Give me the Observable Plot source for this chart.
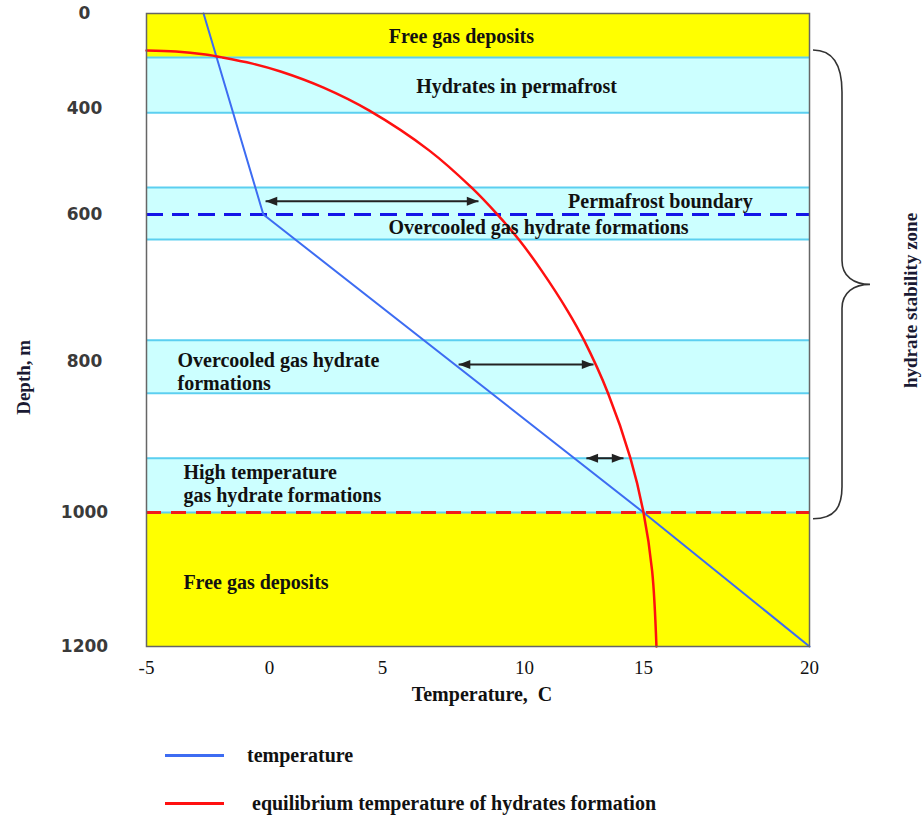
<!DOCTYPE html>
<html><head><meta charset="utf-8">
<script src="https://cdn.jsdelivr.net/npm/d3@7"></script>
<script src="https://cdn.jsdelivr.net/npm/@observablehq/plot@0.6"></script>
<style>
body{margin:0;background:#fff;}
#wrap{position:relative;width:922px;height:821px;overflow:hidden;}
.leg{position:absolute;left:165px;height:30px;display:flex;align-items:center;font:bold 20px "Liberation Serif",serif;color:#111;}
.leg .sw{display:inline-block;width:59px;height:3px;}
</style></head><body><div id="wrap"></div>
<script>
// axis ticks (the original drawing uses uneven tick spacing)
const xTicks = [-5, 0, 5, 10, 15, 20];
const yTicks = [0, 400, 600, 800, 1000, 1200];

// temperature profile (°C vs depth m)
const temperature = [
  {t: -2.68, d: 0}, {t: -0.25, d: 600}, {t: 15, d: 1000}, {t: 20, d: 1200}
];
// equilibrium temperature of hydrate formation
const equilibrium = [
  {t: -5, d: 156}, {t: -3.8, d: 160}, {t: -2.6, d: 173}, {t: -1.91, d: 185},
  {t: -0.69, d: 211}, {t: 0.49, d: 244}, {t: 2.39, d: 312}, {t: 4.42, d: 404},
  {t: 6.64, d: 479}, {t: 8.13, d: 549}, {t: 9.01, d: 598}, {t: 9.82, d: 635},
  {t: 10.71, d: 676}, {t: 11.81, d: 731}, {t: 12.5, d: 771}, {t: 13.51, d: 842},
  {t: 14.45, d: 928}, {t: 15, d: 1000}, {t: 15.26, d: 1087}, {t: 15.39, d: 1200}
];
// zones (depth ranges)
const freeGasZones = [{d1: 0, d2: 185}, {d1: 1000, d2: 1200}];
const hydrateZones = [{d1: 185, d2: 408}, {d1: 549, d2: 634}, {d1: 771, d2: 842}, {d1: 928, d2: 1000}];
const permafrostBoundary = [600];
const stabilityBottom = [1000];
const braceSpan = [156, 1010];
// double arrows (temperature differences)
const arrows = [
  {t1: -0.16, t2: 8.38, d: 575},
  {t1: 7.68, t2: 12.9, d: 804},
  {t1: 12.6, t2: 14.16, d: 928}
];
// zone labels
const zoneLabels = [
  {text: "Free gas deposits", t: 7.78, d: 97, anchor: "middle"},
  {text: "Hydrates in permafrost", t: 9.72, d: 307, anchor: "middle"},
  {text: "Permafrost boundary", t: 15.51, d: 575, anchor: "middle"},
  {text: "Overcooled gas hydrate formations", t: 10.59, d: 618, anchor: "middle"},
  {text: "Overcooled gas hydrate", t: -3.74, d: 799, anchor: "start"},
  {text: "formations", t: -3.74, d: 829, anchor: "start"},
  {text: "High temperature", t: -3.5, d: 947, anchor: "start"},
  {text: "gas hydrate formations", t: -3.5, d: 977, anchor: "start"},
  {text: "Free gas deposits", t: -3.5, d: 1104, anchor: "start"}
];
const axisTitles = [
  {text: "Depth, m", d: 821, side: "left"},
  {text: "hydrate stability zone", d: 717, side: "right"}
];
const legendItems = [
  {label: "temperature", color: "#3d6cf2"},
  {label: " equilibrium temperature of hydrates formation", color: "#ff1010"}
];

const serif = "Liberation Serif, Times New Roman, serif";
const bandEdges = hydrateZones.flatMap(z => [z.d1, z.d2]);

const headRight = {draw(ctx, size) { const k = Math.sqrt(size / Math.PI); ctx.moveTo(0, 0); ctx.lineTo(-2.6 * k, -k); ctx.lineTo(-2.6 * k, k); ctx.closePath(); }};
const headLeft = {draw(ctx, size) { const k = Math.sqrt(size / Math.PI); ctx.moveTo(0, 0); ctx.lineTo(2.6 * k, -k); ctx.lineTo(2.6 * k, k); ctx.closePath(); }};

function braceMark(index, scales, values, dims) {
  const y0 = scales.y(braceSpan[0]), y1 = scales.y(braceSpan[1]);
  const ym = (y0 + y1) / 2;
  const x0 = dims.width - dims.marginRight + 4;
  const xm = x0 + 29, xt = x0 + 57;
  const d = `M${x0},${y0} C${x0 + 22},${y0} ${xm},${y0 + 18} ${xm},${y0 + 42} L${xm},${ym - 24} C${xm},${ym - 8} ${xm + 12},${ym} ${xt},${ym} C${xm + 12},${ym} ${xm},${ym + 8} ${xm},${ym + 24} L${xm},${y1 - 32} C${xm},${y1 - 12} ${x0 + 22},${y1} ${x0},${y1}`;
  return d3.create("svg:path").attr("d", d).attr("fill", "none").attr("stroke", "#333").attr("stroke-width", 1.6).node();
}

const W = 922, H = 720;
const plot = Plot.plot({
  width: W, height: H,
  marginLeft: 146, marginRight: 113, marginTop: 13, marginBottom: 74,
  style: {background: "transparent", color: "#111", overflow: "visible"},
  x: {type: "linear", domain: xTicks, range: [146, 269, 382, 524, 643, 809], label: null},
  y: {type: "linear", domain: yTicks, range: [13, 108, 214, 361, 512, 646], label: null},
  marks: [
    Plot.rect(freeGasZones, {x1: () => xTicks[0], x2: () => xTicks[xTicks.length - 1], y1: "d1", y2: "d2", fill: "#ffff00"}),
    Plot.rect(hydrateZones, {x1: () => xTicks[0], x2: () => xTicks[xTicks.length - 1], y1: "d1", y2: "d2", fill: "#ccffff"}),
    Plot.ruleY(bandEdges, {stroke: "#5ccff0", strokeWidth: 2}),
    Plot.ruleY(permafrostBoundary, {stroke: "#1414e8", strokeWidth: 3, strokeDasharray: "17,9"}),
    Plot.ruleY(stabilityBottom, {stroke: "#f01c1c", strokeWidth: 3, strokeDasharray: "15,10"}),
    Plot.line(temperature, {x: "t", y: "d", stroke: "#3d6cf2", strokeWidth: 2}),
    Plot.line(equilibrium, {x: "t", y: "d", stroke: "#ff1010", strokeWidth: 2.5, curve: "catmull-rom"}),
    Plot.link(arrows, {x1: "t1", x2: "t2", y1: "d", y2: "d", stroke: "#222", strokeWidth: 2}),
    Plot.dot(arrows, {x: "t2", y: "d", symbol: headRight, r: 4.5, fill: "#222", stroke: "none"}),
    Plot.dot(arrows, {x: "t1", y: "d", symbol: headLeft, r: 4.5, fill: "#222", stroke: "none"}),
    Plot.text(zoneLabels.filter(l => l.anchor === "middle"), {x: "t", y: "d", text: "text", textAnchor: "middle", fontFamily: serif, fontWeight: "bold", fontSize: 20, fill: "#111"}),
    Plot.text(zoneLabels.filter(l => l.anchor === "start"), {x: "t", y: "d", text: "text", textAnchor: "start", fontFamily: serif, fontWeight: "bold", fontSize: 20, fill: "#111"}),
    Plot.frame({stroke: "#666", strokeWidth: 1.5}),
    Plot.axisX({ticks: xTicks, tickFormat: d => String(d), tickSize: 0, tickPadding: 14, fontSize: 19, fontFamily: serif, fill: "#111", label: null}),
    Plot.axisY({ticks: yTicks, tickFormat: d => String(d), tickSize: 0, tickPadding: 0, dx: -62, textAnchor: "middle", fontSize: 17, fontWeight: "bold", fontFamily: "DejaVu Sans", fill: "#3a3a3a", label: null}),
    Plot.text(["Temperature,  C"], {frameAnchor: "bottom", dy: 54, dx: 4, fontFamily: serif, fontWeight: "bold", fontSize: 20, fill: "#111"}),
    Plot.text(axisTitles.filter(a => a.side === "left"), {y: "d", text: "text", frameAnchor: "left", textAnchor: "middle", rotate: -90, dx: -123, fontFamily: serif, fontWeight: "bold", fontSize: 19, fill: "#1a1a33"}),
    Plot.text(axisTitles.filter(a => a.side === "right"), {y: "d", text: "text", frameAnchor: "right", textAnchor: "middle", rotate: -90, dx: 101, fontFamily: serif, fontWeight: "bold", fontSize: 19, fill: "#1a1a33"}),
    braceMark
  ]
});
const wrap = document.getElementById("wrap");
wrap.appendChild(plot);
const legTops = [740, 788];
legendItems.forEach((item, i) => {
  const row = document.createElement("div");
  row.className = "leg";
  row.style.top = legTops[i] + "px";
  const sw = document.createElement("span");
  sw.className = "sw";
  sw.style.background = item.color;
  sw.style.marginRight = "23px";
  const tx = document.createElement("span");
  tx.textContent = item.label;
  tx.style.whiteSpace = "pre";
  row.appendChild(sw); row.appendChild(tx);
  wrap.appendChild(row);
});
</script></body></html>
